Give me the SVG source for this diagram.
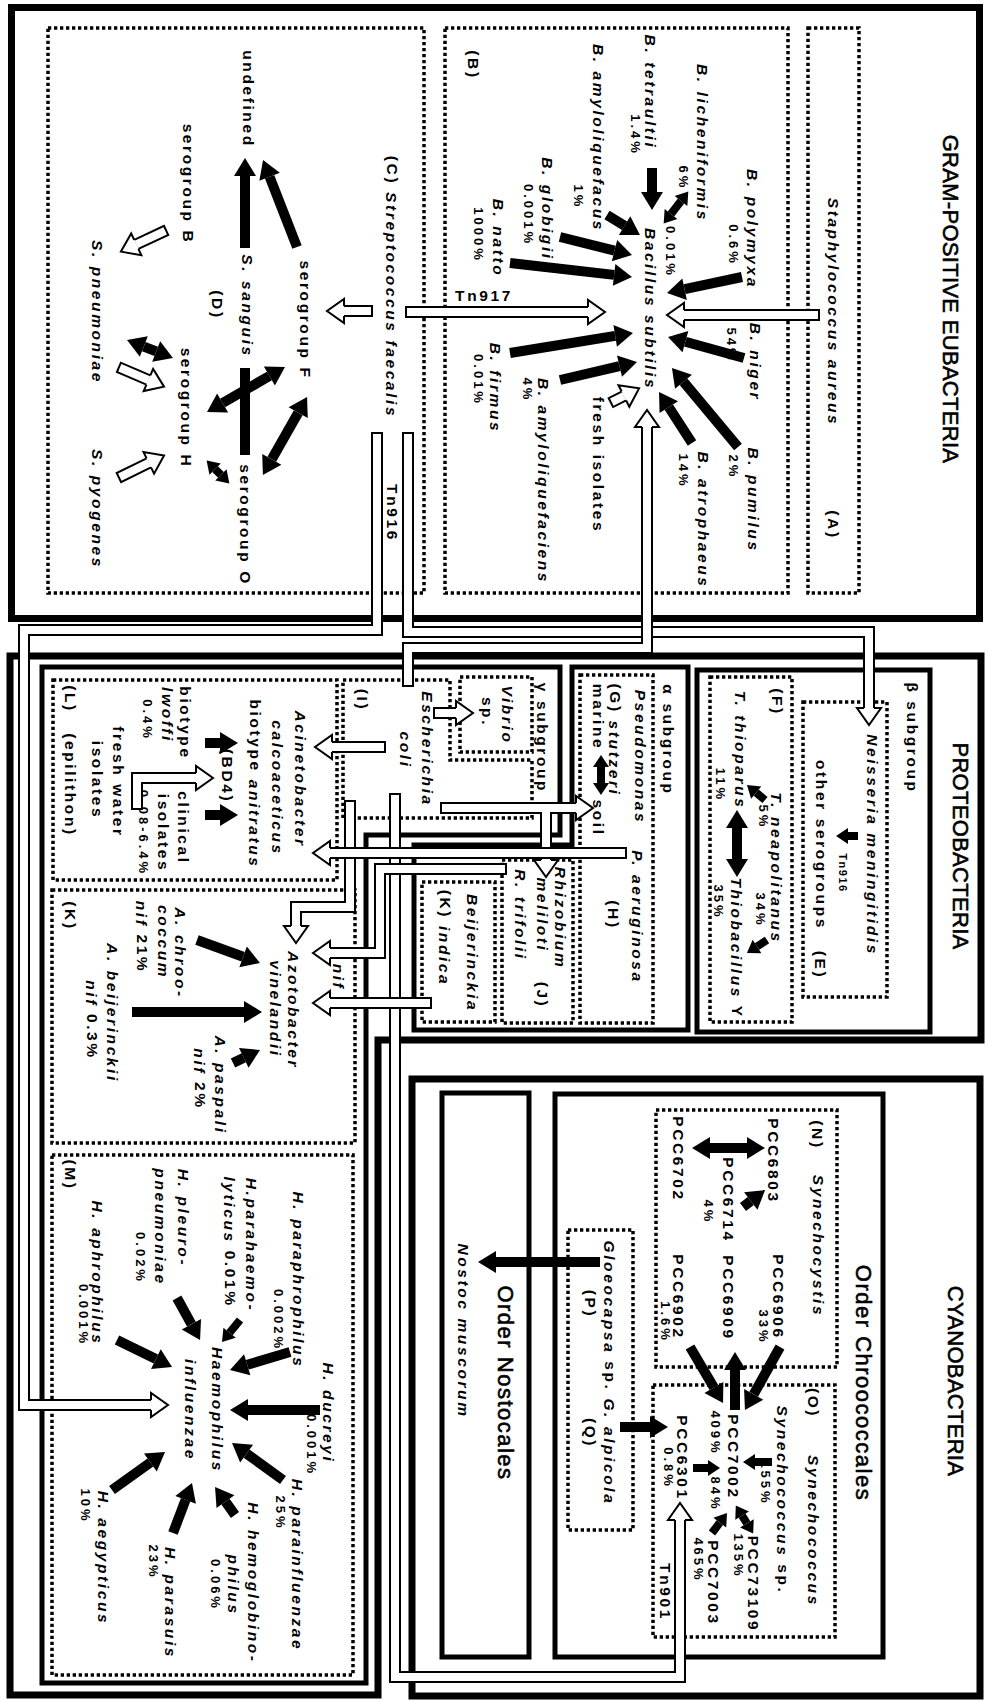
<svg xmlns="http://www.w3.org/2000/svg" width="989" height="1701" viewBox="0 0 989 1701">
<style>
.t{font-family:"Liberation Sans",Arial,sans-serif;font-weight:bold;font-size:15.5px;letter-spacing:2.6px;text-anchor:middle;dominant-baseline:central;fill:#000}
.i{font-style:italic}
.p{font-size:13px;letter-spacing:3px}
.sm{font-size:11px;letter-spacing:1.5px}
.T{font-weight:normal;font-size:22px;letter-spacing:0.3px;stroke:#000;stroke-width:0.6}
.O{font-weight:normal;font-size:22px;letter-spacing:1.5px;stroke:#000;stroke-width:0.6}
.d{fill:none;stroke:#000;stroke-width:3.5;stroke-dasharray:3.3 2.7}
.s5{fill:none;stroke:#000;stroke-width:5}
.s7{fill:none;stroke:#000;stroke-width:7}
.ba{fill:none;stroke:#000;stroke-width:10;marker-end:url(#hb)}
.bd{marker-start:url(#hb)}
.bs{fill:none;stroke:#000;stroke-width:8;marker-end:url(#hs)}
.bsd{marker-start:url(#hs)}
.po{fill:none;stroke:#000;stroke-width:12;stroke-linejoin:miter}
.oh{marker-end:url(#ho)}
.pi{fill:none;stroke:#fff;stroke-width:8;stroke-linejoin:miter}
</style>
<defs>
<marker id="hb" markerUnits="userSpaceOnUse" orient="auto-start-reverse" markerWidth="40" markerHeight="40" refX="0" refY="0" overflow="visible"><path d="M0,-11L18,0L0,11z" fill="#000"/></marker>
<marker id="hs" markerUnits="userSpaceOnUse" orient="auto-start-reverse" markerWidth="30" markerHeight="30" refX="0" refY="0" overflow="visible"><path d="M0,-8L12,0L0,8z" fill="#000"/></marker>
<marker id="ho" markerUnits="userSpaceOnUse" orient="auto" markerWidth="40" markerHeight="40" refX="0" refY="0" overflow="visible"><path d="M0,-5V-12L17,0L0,12V5" fill="#fff" stroke="#000" stroke-width="2"/></marker>
</defs>
<rect width="989" height="1701" fill="#fff"/>

<g id="gram-positive">
<rect class="s7" x="11.5" y="7.5" width="968" height="611"/>
<text class="t T" x="950" y="299" transform="rotate(90 950 299)">GRAM-POSITIVE EUBACTERIA</text>
</g>
<g id="box-A">
<rect class="d" x="808" y="28" width="51" height="565"/>
<text class="t i" x="833" y="312" transform="rotate(90 833 312)">Staphylococcus aureus</text>
<text class="t" x="833" y="525" transform="rotate(90 833 525)">(A)</text>
</g>
<g id="box-B">
<rect class="d" x="445" y="28" width="343" height="565"/>
<text class="t" x="473" y="65" transform="rotate(90 473 65)">(B)</text>
<text class="t i" x="650" y="309" transform="rotate(90 650 309)">Bacillus subtilis</text>
<text class="t i" x="752" y="229" transform="rotate(90 752 229)">B. polymyxa</text>
<text class="t p" x="733" y="245" transform="rotate(90 733 245)">0.6%</text>
<text class="t i" x="702" y="143" transform="rotate(90 702 143)">B. licheniformis</text>
<text class="t p" x="683" y="178" transform="rotate(90 683 178)">6%</text>
<text class="t i" x="650" y="92" transform="rotate(90 650 92)">B. tetraultii</text>
<text class="t p" x="635" y="135" transform="rotate(90 635 135)">1.4%</text>
<text class="t i" x="598" y="138" transform="rotate(90 598 138)">B. amyloliquefacus</text>
<text class="t p" x="578" y="197" transform="rotate(90 578 197)">1%</text>
<text class="t i" x="547" y="209" transform="rotate(90 547 209)">B. globigii</text>
<text class="t p" x="528" y="215" transform="rotate(90 528 215)">0.001%</text>
<text class="t i" x="498" y="238" transform="rotate(90 498 238)">B. natto</text>
<text class="t p" x="478" y="235" transform="rotate(90 478 235)">1000%</text>
<text class="t p" x="670" y="252" transform="rotate(90 670 252)">0.01%</text>
<text class="t i" x="755" y="362" transform="rotate(90 755 362)">B. niger</text>
<text class="t p" x="731" y="345" transform="rotate(90 731 345)">54%</text>
<text class="t i" x="753" y="500" transform="rotate(90 753 500)">B. pumilus</text>
<text class="t p" x="733" y="467" transform="rotate(90 733 467)">2%</text>
<text class="t i" x="703" y="520" transform="rotate(90 703 520)">B. atrophaeus</text>
<text class="t p" x="683" y="471" transform="rotate(90 683 471)">14%</text>
<text class="t" x="598" y="465" transform="rotate(90 598 465)">fresh isolates</text>
<text class="t i" x="543" y="481" transform="rotate(90 543 481)">B. amyloliquefaciens</text>
<text class="t p" x="527" y="390" transform="rotate(90 527 390)">4%</text>
<text class="t i" x="495" y="388" transform="rotate(90 495 388)">B. firmus</text>
<text class="t p" x="478" y="380" transform="rotate(90 478 380)">0.01%</text>
<text class="t" x="484" y="295">Tn917</text>
</g>
<g id="box-C">
<rect class="d" x="48" y="28" width="376" height="565"/>
<text class="t" x="392" y="287" transform="rotate(90 392 287)">(C) <tspan class="i">Streptococcus faecalis</tspan></text>
<text class="t" x="392" y="513" transform="rotate(90 392 513)">Tn916</text>
<text class="t" x="248" y="99" transform="rotate(90 248 99)">undefined</text>
<text class="t" x="188" y="184" transform="rotate(90 188 184)">serogroup B</text>
<text class="t i" x="97" y="312" transform="rotate(90 97 312)">S. pneumoniae</text>
<text class="t" x="305" y="320" transform="rotate(90 305 320)">serogroup F</text>
<text class="t i" x="247" y="306" transform="rotate(90 247 306)">S. sanguis</text>
<text class="t" x="217" y="305" transform="rotate(90 217 305)">(D)</text>
<text class="t" x="186" y="408" transform="rotate(90 186 408)">serogroup H</text>
<text class="t" x="245" y="525" transform="rotate(90 245 525)">serogroup O</text>
<text class="t i" x="97" y="509" transform="rotate(90 97 509)">S. pyogenes</text>
</g>

<g id="proteobacteria">
<path class="s7" d="M10,656H981V1040H378V1695H10Z"/>
<text class="t T" x="960" y="846" transform="rotate(90 960 846)">PROTEOBACTERIA</text>
</g>
<g id="beta-subgroup">
<rect class="s5" x="697" y="670" width="233" height="362"/>
<text class="t" x="912" y="738" transform="rotate(90 912 738)">β subgroup</text>
</g>
<g id="box-E">
<rect class="d" x="803" y="702" width="84" height="295"/>
<text class="t i" x="872" y="845" transform="rotate(90 872 845)">Neisseria meningitidis</text>
<text class="t" x="821" y="845" transform="rotate(90 821 845)">other serogroups</text>
<text class="t" x="820" y="965" transform="rotate(90 820 965)">(E)</text>
<text class="t sm" x="843" y="873" transform="rotate(90 843 873)">Tn916</text>
</g>
<g id="box-F">
<rect class="d" x="710" y="677" width="82" height="345"/>
<text class="t" x="777" y="702" transform="rotate(90 777 702)">(F)</text>
<text class="t i" x="740" y="750" transform="rotate(90 740 750)">T. thioparus</text>
<text class="t p" x="720" y="785" transform="rotate(90 720 785)">11%</text>
<text class="t i" x="776" y="868" transform="rotate(90 776 868)">T. neapolitanus</text>
<text class="t p" x="763" y="817" transform="rotate(90 763 817)">5%</text>
<text class="t p" x="760" y="910" transform="rotate(90 760 910)">34%</text>
<text class="t" x="737" y="948" transform="rotate(90 737 948)"><tspan class="i">Thiobacillus</tspan> Y</text>
<text class="t p" x="718" y="902" transform="rotate(90 718 902)">35%</text>
</g>
<g id="alpha-subgroup">
<path class="s5" d="M572,667H688V1030H414V845H572Z"/>
<text class="t" x="668" y="740" transform="rotate(90 668 740)">α subgroup</text>
</g>
<g id="box-G">
<rect class="d" x="580" y="675" width="73" height="348"/>
<text class="t i" x="640" y="757" transform="rotate(90 640 757)">Pseudomonas</text>
<text class="t" x="615" y="740" transform="rotate(90 615 740)">(G) <tspan class="i">stutzeri</tspan></text>
<text class="t" x="598" y="717" transform="rotate(90 598 717)">marine</text>
<text class="t" x="598" y="818" transform="rotate(90 598 818)">soil</text>
<text class="t i" x="637" y="917" transform="rotate(90 637 917)">P. aeruginosa</text>
<text class="t" x="613" y="915" transform="rotate(90 613 915)">(H)</text>
</g>
<g id="box-J">
<rect class="d" x="502" y="860" width="71" height="163"/>
<text class="t i" x="560" y="918" transform="rotate(90 560 918)">Rhizobium</text>
<text class="t i" x="542" y="915" transform="rotate(90 542 915)">meliloti</text>
<text class="t" x="542" y="995" transform="rotate(90 542 995)">(J)</text>
<text class="t i" x="520" y="915" transform="rotate(90 520 915)">R. trifolii</text>
</g>
<g id="box-K-beijerinckia">
<rect class="d" x="422" y="882" width="73" height="140"/>
<text class="t i" x="472" y="953" transform="rotate(90 472 953)">Beijerinckia</text>
<text class="t" x="445" y="938" transform="rotate(90 445 938)">(K) <tspan class="i">indica</tspan></text>
</g>
<g id="gamma-subgroup">
<path class="s5" d="M42,667H560V835H366V1683H42Z"/>
<text class="t" x="542" y="738" transform="rotate(90 542 738)">γ subgroup</text>
</g>
<g id="box-vibrio">
<rect class="d" x="460" y="677" width="72" height="75"/>
<text class="t i" x="507" y="715" transform="rotate(90 507 715)">Vibrio</text>
<text class="t" x="487" y="712" transform="rotate(90 487 712)">sp.</text>
</g>
<g id="box-I">
<path class="d" d="M343,680H450V760H532V818H343Z"/>
<text class="t" x="362" y="700" transform="rotate(90 362 700)">(I)</text>
<text class="t i" x="427" y="749" transform="rotate(90 427 749)">Escherichia</text>
<text class="t i" x="405" y="750" transform="rotate(90 405 750)">coli</text>
</g>
<g id="box-L">
<rect class="d" x="53" y="680" width="284" height="200"/>
<text class="t i" x="300" y="779" transform="rotate(90 300 779)">Acinetobacter</text>
<text class="t i" x="277" y="788" transform="rotate(90 277 788)">calcoaceticus</text>
<text class="t" x="255" y="784" transform="rotate(90 255 784)">biotype <tspan class="i">anitratus</tspan></text>
<text class="t" x="227" y="776" transform="rotate(90 227 776)">(BD4)</text>
<text class="t" x="185" y="723" transform="rotate(90 185 723)">biotype</text>
<text class="t i" x="167" y="715" transform="rotate(90 167 715)">lwoffi</text>
<text class="t p" x="147" y="720" transform="rotate(90 147 720)">0.4%</text>
<text class="t" x="183" y="828" transform="rotate(90 183 828)">clinical</text>
<text class="t" x="163" y="833" transform="rotate(90 163 833)">isolates</text>
<text class="t p" x="143" y="833" transform="rotate(90 143 833)">0.08-6.4%</text>
<text class="t" x="118" y="782" transform="rotate(90 118 782)">fresh water</text>
<text class="t" x="97" y="780" transform="rotate(90 97 780)">isolates</text>
<text class="t" x="70" y="699" transform="rotate(90 70 699)">(L)</text>
<text class="t" x="70" y="785" transform="rotate(90 70 785)">(epilithon)</text>
</g>
<g id="box-K-azotobacter">
<rect class="d" x="52" y="890" width="303" height="253"/>
<text class="t i" x="293" y="1010" transform="rotate(90 293 1010)">Azotobacter</text>
<text class="t i" x="275" y="1009" transform="rotate(90 275 1009)">vinelandii</text>
<text class="t" x="70" y="916" transform="rotate(90 70 916)">(K)</text>
<text class="t i" x="180" y="953" transform="rotate(90 180 953)">A. chroo-</text>
<text class="t i" x="163" y="942" transform="rotate(90 163 942)">coccum</text>
<text class="t" x="142" y="937" transform="rotate(90 142 937)"><tspan class="i">nif</tspan> 21%</text>
<text class="t i" x="112" y="1013" transform="rotate(90 112 1013)">A. beijerinckii</text>
<text class="t" x="92" y="1020" transform="rotate(90 92 1020)"><tspan class="i">nif</tspan> 0.3%</text>
<text class="t i" x="220" y="1085" transform="rotate(90 220 1085)">A. paspali</text>
<text class="t" x="200" y="1079" transform="rotate(90 200 1079)"><tspan class="i">nif</tspan> 2%</text>
<text class="t i" x="338" y="977" transform="rotate(90 338 977)">nif</text>
</g>
<g id="box-M">
<rect class="d" x="52" y="1155" width="301" height="520"/>
<text class="t" x="70" y="1175" transform="rotate(90 70 1175)">(M)</text>
<text class="t i" x="217" y="1410" transform="rotate(90 217 1410)">Haemophilus</text>
<text class="t i" x="190" y="1410" transform="rotate(90 190 1410)">influenzae</text>
<text class="t i" x="298" y="1280" transform="rotate(90 298 1280)">H. paraphrophilus</text>
<text class="t p" x="278" y="1320" transform="rotate(90 278 1320)">0.002%</text>
<text class="t i" x="251" y="1245" transform="rotate(90 251 1245)">H.parahaemo-</text>
<text class="t" x="230" y="1242" transform="rotate(90 230 1242)"><tspan class="i">lyticus</tspan> 0.01%</text>
<text class="t i" x="183" y="1218" transform="rotate(90 183 1218)">H. pleuro-</text>
<text class="t i" x="160" y="1227" transform="rotate(90 160 1227)">pneumoniae</text>
<text class="t p" x="140" y="1258" transform="rotate(90 140 1258)">0.02%</text>
<text class="t i" x="97" y="1273" transform="rotate(90 97 1273)">H. aphrophilus</text>
<text class="t p" x="83" y="1315" transform="rotate(90 83 1315)">0.001%</text>
<text class="t i" x="328" y="1413" transform="rotate(90 328 1413)">H. ducreyi</text>
<text class="t p" x="311" y="1445" transform="rotate(90 311 1445)">0.001%</text>
<text class="t i" x="297" y="1565" transform="rotate(90 297 1565)">H. parainfluenzae</text>
<text class="t p" x="280" y="1513" transform="rotate(90 280 1513)">25%</text>
<text class="t i" x="253" y="1583" transform="rotate(90 253 1583)">H. hemoglobino-</text>
<text class="t i" x="233" y="1585" transform="rotate(90 233 1585)">philus</text>
<text class="t p" x="215" y="1585" transform="rotate(90 215 1585)">0.06%</text>
<text class="t i" x="170" y="1603" transform="rotate(90 170 1603)">H. parasuis</text>
<text class="t p" x="153" y="1562" transform="rotate(90 153 1562)">23%</text>
<text class="t i" x="103" y="1558" transform="rotate(90 103 1558)">H. aegypticus</text>
<text class="t p" x="85" y="1506" transform="rotate(90 85 1506)">10%</text>
</g>

<g id="cyanobacteria">
<rect class="s7" x="412" y="1079" width="568" height="617"/>
<text class="t T" x="955" y="1381" transform="rotate(90 955 1381)">CYANOBACTERIA</text>
</g>
<g id="chroococcales">
<rect class="s5" x="555" y="1094" width="328" height="563"/>
<text class="t O" x="863" y="1383" transform="rotate(90 863 1383)">Order Chroococcales</text>
</g>
<g id="nostocales">
<rect class="s5" x="442" y="1093" width="87" height="564"/>
<text class="t O" x="505" y="1383" transform="rotate(90 505 1383)">Order Nostocales</text>
<text class="t i" x="463" y="1331" transform="rotate(90 463 1331)">Nostoc muscorum</text>
</g>
<g id="box-N">
<rect class="d" x="656" y="1110" width="181" height="257"/>
<text class="t" x="817" y="1135" transform="rotate(90 817 1135)">(N)</text>
<text class="t i" x="818" y="1246" transform="rotate(90 818 1246)">Synechocystis</text>
<text class="t" x="773" y="1161" transform="rotate(90 773 1161)">PCC6803</text>
<text class="t" x="678" y="1159" transform="rotate(90 678 1159)">PCC6702</text>
<text class="t" x="728" y="1200" transform="rotate(90 728 1200)">PCC6714</text>
<text class="t p" x="708" y="1212" transform="rotate(90 708 1212)">4%</text>
<text class="t" x="778" y="1297" transform="rotate(90 778 1297)">PCC6906</text>
<text class="t p" x="763" y="1327" transform="rotate(90 763 1327)">33%</text>
<text class="t" x="728" y="1298" transform="rotate(90 728 1298)">PCC6909</text>
<text class="t" x="678" y="1297" transform="rotate(90 678 1297)">PCC6902</text>
<text class="t p" x="665" y="1322" transform="rotate(90 665 1322)">1.6%</text>
</g>
<g id="box-O">
<rect class="d" x="653" y="1385" width="182" height="252"/>
<text class="t" x="813" y="1403" transform="rotate(90 813 1403)">(O)</text>
<text class="t i" x="813" y="1531" transform="rotate(90 813 1531)">Synechococcus</text>
<text class="t" x="783" y="1500" transform="rotate(90 783 1500)"><tspan class="i">Synechococcus</tspan> sp.</text>
<text class="t p" x="765" y="1483" transform="rotate(90 765 1483)">155%</text>
<text class="t" x="733" y="1457" transform="rotate(90 733 1457)">PCC7002</text>
<text class="t p" x="715" y="1433" transform="rotate(90 715 1433)">409%</text>
<text class="t p" x="715" y="1494" transform="rotate(90 715 1494)">84%</text>
<text class="t" x="682" y="1458" transform="rotate(90 682 1458)">PCC6301</text>
<text class="t p" x="668" y="1468" transform="rotate(90 668 1468)">0.8%</text>
<text class="t" x="753" y="1584" transform="rotate(90 753 1584)">PCC73109</text>
<text class="t p" x="738" y="1556" transform="rotate(90 738 1556)">135%</text>
<text class="t" x="713" y="1583" transform="rotate(90 713 1583)">PCC7003</text>
<text class="t p" x="698" y="1560" transform="rotate(90 698 1560)">465%</text>
<text class="t" x="665" y="1592" transform="rotate(90 665 1592)">Tn901</text>
</g>
<g id="box-P">
<rect class="d" x="568" y="1230" width="65" height="300"/>
<text class="t" x="610" y="1373" transform="rotate(90 610 1373)"><tspan class="i">Gloeocapsa</tspan> sp. <tspan class="i">G. alpicola</tspan></text>
<text class="t" x="590" y="1304" transform="rotate(90 590 1304)">(P)</text>
<text class="t" x="590" y="1433" transform="rotate(90 590 1433)">(Q)</text>
</g>

<g id="connectors">
<path class="po oh" d="M377,432V630H24V1405H151"/><path class="pi" d="M377,434V630H24V1405H151"/>
<path class="po oh" d="M408,432V632H869V708"/><path class="pi" d="M408,434V632H869V708"/>
<path class="po oh" d="M408,687V648H647V427"/><path class="pi" d="M408,685V648H647V427"/>
<path class="po oh" d="M395,793V1677H680V1520"/><path class="pi" d="M395,795V1677H680V1520"/>
<path class="po oh" d="M507,869H380V953H330"/><path class="pi" d="M505,869H380V953H330"/>
<path class="po oh" d="M432,1003H330"/><path class="pi" d="M430,1003H330"/>
<path class="po oh" d="M350,800V907H296V926"/><path class="pi" d="M350,802V907H296V926"/>
<path class="po oh" d="M386,747H332"/><path class="pi" d="M384,747H332"/>
<path class="po oh" d="M433,713H456"/><path class="pi" d="M435,713H456"/>
<path class="po oh" d="M546,814V860"/>
<path class="po oh" d="M440,808H576"/><path class="pi" d="M442,808H576"/><path class="pi" d="M546,808V860"/>
<path class="po oh" d="M627,853H330"/><path class="pi" d="M625,853H330"/>
<path class="po oh" d="M405,312H588"/><path class="pi" d="M407,312H588"/>
<path class="po oh" d="M820,315H684"/><path class="pi" d="M818,315H684"/>
<path class="po oh" d="M373,311H344"/><path class="pi" d="M371,311H344"/>
<path class="po oh" d="M167,230L136.3,244.4"/><path class="pi" d="M165.2,230.8L136.3,244.4"/>
<path class="po oh" d="M118,367L148.4,380"/><path class="pi" d="M119.8,367.8L148.4,380"/>
<path class="po oh" d="M118,478L148.8,462.9"/><path class="pi" d="M119.8,477.1L148.8,462.9"/>
<path class="po oh" d="M610,403L623.9,396"/><path class="pi" d="M611.8,402.1L623.9,396"/>
<path class="po oh" d="M137,810V778H196"/><path class="pi" d="M137,808V778H196"/>
<line class="ba" x1="245" y1="248" x2="245" y2="176"/>
<line class="ba" x1="297" y1="247" x2="269.6" y2="176.8"/>
<line class="ba bd" x1="156.2" y1="351.4" x2="143.8" y2="346.6"/>
<line class="ba bd" x1="269.4" y1="376" x2="222.6" y2="403"/>
<line stroke="#000" stroke-width="10" x1="245" y1="368" x2="245" y2="455"/>
<line class="ba bd" x1="298.2" y1="412.7" x2="271.8" y2="459.3"/>
<line class="bs bsd" x1="215.1" y1="469.1" x2="220.9" y2="474.9"/>
<line class="ba" x1="652" y1="168" x2="652" y2="192"/>
<line class="ba" x1="607" y1="215" x2="624.6" y2="225.7"/>
<line class="ba" x1="560" y1="237" x2="614.5" y2="250.6"/>
<line class="ba" x1="510" y1="263" x2="614.1" y2="274.9"/>
<line class="ba" x1="510" y1="353" x2="615.2" y2="335.9"/>
<line class="ba" x1="560" y1="380" x2="619.5" y2="366.1"/>
<line class="bs bsd" x1="681" y1="201" x2="671" y2="214"/>
<line class="ba" x1="742" y1="277" x2="684.6" y2="289.2"/>
<line class="ba" x1="744" y1="358" x2="685.4" y2="341.7"/>
<line class="ba" x1="738" y1="447" x2="683.5" y2="381.8"/>
<line class="ba" x1="692" y1="443" x2="668.8" y2="407.1"/>
<line class="bs" x1="765" y1="800" x2="756.2" y2="792.7"/>
<line class="ba bd" x1="737" y1="828" x2="737" y2="859"/>
<line class="bs" x1="767" y1="940" x2="757" y2="946.5"/>
<line class="bs" x1="858" y1="836" x2="848" y2="836"/>
<line class="bs bsd" x1="601" y1="767" x2="601" y2="783"/>
<line class="ba" x1="205" y1="743" x2="220" y2="743"/>
<line class="ba" x1="205" y1="815" x2="220" y2="815"/>
<line class="ba" x1="197" y1="940" x2="243.1" y2="956.8"/>
<line class="ba" stroke-width="12" x1="132" y1="1012" x2="244" y2="1012"/>
<line class="ba" x1="233" y1="1063" x2="243.8" y2="1057.8"/>
<line class="ba" stroke-width="12" x1="320" y1="1410" x2="248" y2="1410"/>
<line class="ba" x1="290" y1="1352" x2="247.2" y2="1364.8"/>
<line class="bs" x1="240" y1="1320" x2="229.6" y2="1332.7"/>
<line class="ba" x1="177" y1="1298" x2="191.4" y2="1324.2"/>
<line class="ba" x1="117" y1="1340" x2="155.9" y2="1359.1"/>
<line class="ba" x1="283" y1="1480" x2="246.6" y2="1453.6"/>
<line class="ba" x1="235" y1="1515" x2="225.5" y2="1501.7"/>
<line class="ba" x1="173" y1="1533" x2="185.6" y2="1499.8"/>
<line class="ba" x1="112" y1="1490" x2="150.4" y2="1462.5"/>
<line class="ba bd" x1="747" y1="1148" x2="710" y2="1148"/>
<line class="ba" x1="743" y1="1207" x2="750.8" y2="1201"/>
<line class="ba" x1="780" y1="1347" x2="753.7" y2="1394.3"/>
<line class="ba" x1="735" y1="1410" x2="735" y2="1370"/>
<line class="ba" x1="690" y1="1347" x2="713.9" y2="1387.5"/>
<line class="bs" x1="772" y1="1462" x2="755" y2="1462"/>
<line class="bs" x1="693" y1="1468" x2="708" y2="1468"/>
<line class="bs bsd" x1="742.1" y1="1515.6" x2="746.9" y2="1523.4"/>
<line class="bs" x1="712" y1="1533" x2="719.8" y2="1522.6"/>
<line class="ba" x1="620" y1="1427" x2="650" y2="1427"/>
<line class="ba" x1="600" y1="1262" x2="496" y2="1262"/>
</g>
</svg>
